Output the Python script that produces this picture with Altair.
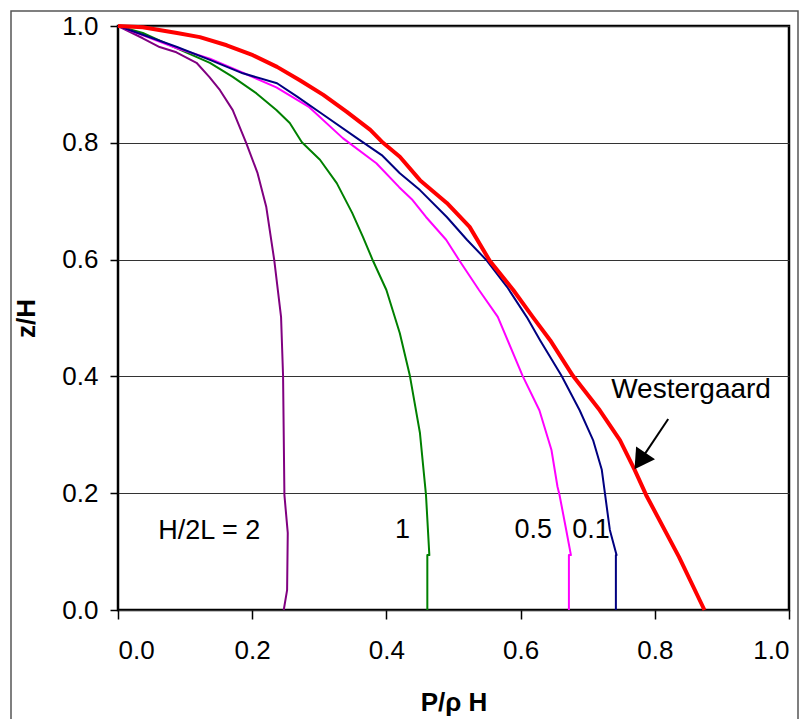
import altair as alt
import pandas as pd

# ---- data ----
west_x = [0.0, 0.037, 0.088, 0.122, 0.162, 0.201, 0.237, 0.271, 0.306, 0.341, 0.376, 0.395,
          0.420, 0.450, 0.490, 0.524, 0.554, 0.589, 0.618, 0.644, 0.678, 0.718, 0.748, 0.770,
          0.787, 0.836, 0.874]
west_z = [1.0, 0.998, 0.988, 0.981, 0.967, 0.950, 0.930, 0.907, 0.882, 0.853, 0.822, 0.800,
          0.776, 0.736, 0.697, 0.656, 0.598, 0.548, 0.502, 0.462, 0.401, 0.342, 0.291, 0.240,
          0.197, 0.091, 0.0]

r01_x = [0.0, 0.037, 0.088, 0.137, 0.186, 0.237, 0.267, 0.306, 0.356, 0.393, 0.420, 0.450,
         0.490, 0.520, 0.550, 0.580, 0.609, 0.629, 0.661, 0.688, 0.708, 0.721, 0.726, 0.733,
         0.743, 0.742, 0.742]
r01_z = [1.0, 0.985, 0.964, 0.942, 0.919, 0.902, 0.879, 0.848, 0.808, 0.779, 0.748, 0.719,
         0.673, 0.634, 0.598, 0.553, 0.502, 0.462, 0.401, 0.342, 0.291, 0.240, 0.197, 0.137,
         0.094, 0.094, 0.0]

r05_x = [0.0, 0.037, 0.088, 0.137, 0.186, 0.236, 0.285, 0.335, 0.385, 0.419, 0.439, 0.459,
         0.489, 0.509, 0.538, 0.566, 0.603, 0.628, 0.646, 0.655, 0.658, 0.668, 0.675, 0.672,
         0.672]
r05_z = [1.0, 0.984, 0.962, 0.944, 0.920, 0.895, 0.861, 0.808, 0.765, 0.724, 0.702, 0.673,
         0.634, 0.598, 0.548, 0.502, 0.401, 0.342, 0.274, 0.211, 0.197, 0.137, 0.094, 0.094,
         0.0]

r1_x = [0.0, 0.037, 0.087, 0.137, 0.171, 0.206, 0.236, 0.256, 0.274, 0.301, 0.326, 0.349,
        0.365, 0.380, 0.400, 0.420, 0.435, 0.450, 0.459, 0.464, 0.461, 0.461]
r1_z = [1.0, 0.988, 0.962, 0.937, 0.913, 0.885, 0.856, 0.834, 0.801, 0.771, 0.731, 0.680,
        0.639, 0.598, 0.548, 0.474, 0.401, 0.303, 0.197, 0.094, 0.094, 0.0]

r2_x = [0.0, 0.037, 0.062, 0.087, 0.117, 0.136, 0.152, 0.171, 0.191, 0.208, 0.221, 0.233,
        0.243, 0.246, 0.248, 0.253, 0.252, 0.247]
r2_z = [1.0, 0.979, 0.964, 0.955, 0.937, 0.913, 0.890, 0.856, 0.800, 0.748, 0.690, 0.598,
        0.502, 0.401, 0.197, 0.132, 0.034, 0.0]

series_names = ["2", "1", "0.5", "0.1", "Westergaard"]
series_colors = ["#800080", "#008000", "#FF00FF", "#000080", "#FF0000"]
series_widths = [2, 2, 2, 2, 4]
series_x = [r2_x, r1_x, r05_x, r01_x, west_x]
series_z = [r2_z, r1_z, r05_z, r01_z, west_z]

label_text = ["H/2L = 2", "1", "0.5", "0.1", "Westergaard"]
label_x = [0.136, 0.424, 0.619, 0.705, 0.854]
label_z = [0.135, 0.137, 0.137, 0.137, 0.377]
label_size = [27, 27, 27, 27, 28]

arrow_x = [0.820]
arrow_z = [0.327]
arrow_x2 = [0.778]
arrow_z2 = [0.255]

tick_values = [0.0, 0.2, 0.4, 0.6, 0.8, 1.0]

FONT = "Liberation Sans"

xscale = alt.Scale(domain=[0, 1], nice=False, zero=False)
yscale = alt.Scale(domain=[0, 1], nice=False, zero=False)

x_axis = alt.Axis(values=tick_values, format=".1f", grid=False, domain=False,
                  tickSize=9, tickColor="black", tickWidth=1.5,
                  labelFontSize=26, labelFont=FONT, labelColor="black", labelPadding=18,
                  title="P/ρ H", titleFont=FONT, titleFontSize=26, titleFontWeight="bold",
                  titleColor="black", titlePadding=26)
y_axis = alt.Axis(values=tick_values, format=".1f", grid=True, gridColor="#333333",
                  gridWidth=1.2, domain=False,
                  tickSize=8, tickColor="black", tickWidth=1.5,
                  labelFontSize=26, labelFont=FONT, labelColor="black", labelPadding=12,
                  title="z/H", titleFont=FONT, titleFontSize=26, titleFontWeight="bold",
                  titleColor="black", titlePadding=22)

X = alt.X("x:Q", scale=xscale, axis=x_axis)
Y = alt.Y("z:Q", scale=yscale, axis=y_axis)

layers = []

# outer chart frame
frame = alt.Chart(pd.DataFrame({"a": [0]})).mark_rect(
    filled=False, stroke="#555555", strokeWidth=1.5
).encode(x=alt.value(-107), x2=alt.value(680), y=alt.value(-15), y2=alt.value(720))
layers.append(frame)

for name, col, w, xs, zs in zip(series_names, series_colors, series_widths, series_x, series_z):
    d = pd.DataFrame({"x": xs, "z": zs, "i": list(range(len(xs)))})
    layers.append(
        alt.Chart(d).mark_line(color=col, strokeWidth=w, strokeJoin="round").encode(
            x=X, y=Y, order="i:Q"
        )
    )

labels = alt.Chart(pd.DataFrame({"x": label_x, "z": label_z, "t": label_text,
                                 "s": label_size})).mark_text(
    font=FONT, color="black", align="center", baseline="middle"
).encode(x=X, y=Y, text="t:N", size=alt.Size("s:Q", scale=None, legend=None))
layers.append(labels)

arrow_df = pd.DataFrame({"x": arrow_x, "z": arrow_z, "x2": arrow_x2, "z2": arrow_z2})
arrow_line = alt.Chart(arrow_df).mark_rule(color="black", strokeWidth=2).encode(
    x=X, y=Y, x2="x2:Q", y2="z2:Q")
arrow_head = alt.Chart(arrow_df).mark_point(
    shape="triangle-up", filled=True, color="black", size=520, angle=214, opacity=1
).encode(x=alt.X("x2:Q", scale=xscale, axis=x_axis), y=alt.Y("z2:Q", scale=yscale, axis=y_axis))
layers.append(arrow_line)
layers.append(arrow_head)

chart = alt.layer(*layers).properties(
    width=671, height=584,
    padding={"left": 110, "top": 18, "right": 12, "bottom": 109},
    autosize=alt.AutoSizeParams(type="none"),
    background="white",
).configure_view(stroke="black", strokeWidth=2.5)

chart.save("out.html", embed_options={"renderer": "svg", "actions": False})
